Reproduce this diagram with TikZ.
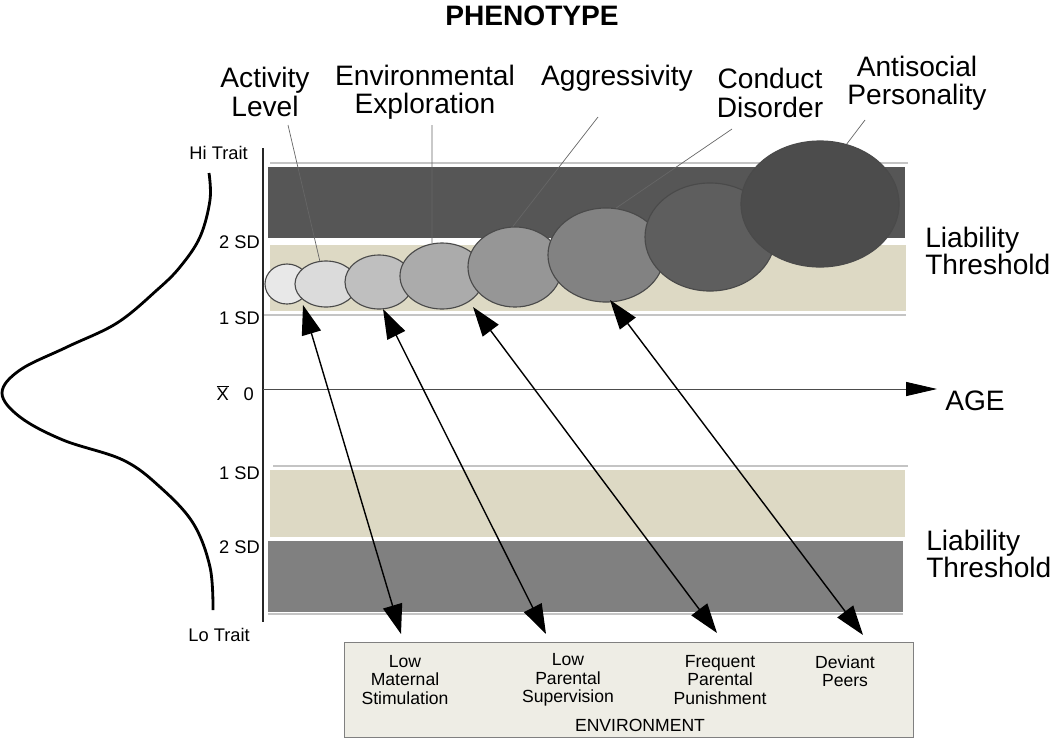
\documentclass[tikz,border=0pt]{standalone}
\usepackage{fontspec}
\setmainfont{Liberation Sans}
\usetikzlibrary{shapes.geometric}
\usetikzlibrary{arrows.meta}

\definecolor{darkband}{HTML}{565656}
\definecolor{lowband}{HTML}{808080}
\definecolor{beige}{HTML}{DDD9C4}
\definecolor{envfill}{HTML}{EEEDE5}
\definecolor{sepgray}{HTML}{C4C4C4}
\definecolor{rimgray}{HTML}{4A4A4A}

\newcommand{\lblfont}{\fontsize{20}{20}\selectfont}
\newcommand{\sdfont}{\fontsize{13}{13}\selectfont}
\newcommand{\envfont}{\fontsize{12.5}{13}\selectfont}

\tikzset{
	trait/.style={ellipse, draw=rimgray, line width=0.8pt, inner sep=0pt},
	pointer/.style={draw=black!60, line width=0.5pt},
	biarrow/.style={{Triangle[length=21pt,width=14pt]}-{Triangle[length=21pt,width=14pt]}, line width=1pt},
	sepline/.style={draw=sepgray, line width=1.1pt},
	sdlabel/.style={anchor=east, inner sep=0pt, font=\sdfont},
	phlabel/.style={align=center, inner sep=0pt, font=\lblfont},
	envlabel/.style={align=center, inner sep=0pt, font=\envfont}
}

\begin{document}
\begin{tikzpicture}[x=0.025cm, y=-0.025cm]
		\useasboundingbox (0,0) rectangle (1050,739);

		% Bands
		\draw[sepline] (270,163) -- (908,163);
		\fill[darkband] (268,167) rectangle (905,238);
		\fill[beige] (270,245) rectangle (906,311);
		\draw[sepline] (263,315) -- (906,315);
		\draw[sepline] (273,466) -- (908,466);
		\fill[beige] (270,470) rectangle (905,537);
		\fill[lowband] (268,541) rectangle (903,612);
		\draw[sepline] (268,614) -- (903,614);

		% Axes
		\coordinate (axtop) at (263,148);
		\coordinate (axbot) at (263,622);
		\draw[line width=1.1pt, black!85] (axtop) -- (axbot);
		\coordinate (origin) at (263,389);
		\coordinate (agetip) at (937,389);
		\draw[-{Triangle[length=22pt,width=10pt,black]}, line width=0.6pt, black!70] (origin) -- (agetip);
		\node[anchor=west, inner sep=0pt, font=\lblfont] (agelbl) at (945,401) {AGE};

		% Trait scale
		\node[sdlabel] (hitrait) at (248,153) {Hi Trait};
		\node[sdlabel] (hi2sd) at (260,242) {2 SD};
		\node[sdlabel] (hi1sd) at (260,318) {1 SD};
		\node[sdlabel] (mean) at (254,393) {$\overline{\mbox{X}}$\hspace{0.8em}0};
		\node[sdlabel] (lo1sd) at (260,473) {1 SD};
		\node[sdlabel] (lo2sd) at (260,547) {2 SD};
		\node[sdlabel] (lotrait) at (250,635) {Lo Trait};

		% Normal curve
		\draw[line width=2pt, line join=round] plot[smooth, tension=0.6] coordinates {(209,173) (210,200) (200,237) (180,267) (157,290) (117,323) (67,347) (20,370) (2,393) (20,417) (63,440) (123,460) (160,487) (193,523) (210,567) (213,610)};

		% Phenotypes
		\node[trait, fill=black!9, minimum width=1.1cm, minimum height=1.0cm] (e1) at (287,284) {};
		\node[trait, fill=black!14, minimum width=1.55cm, minimum height=1.15cm] (e2) at (326,284) {};
		\node[trait, fill=black!25, minimum width=1.7cm, minimum height=1.35cm] (e3) at (379,282) {};
		\node[trait, fill=black!33, minimum width=2.1cm, minimum height=1.65cm] (e4) at (442,276) {};
		\node[trait, fill=black!41, minimum width=2.35cm, minimum height=2.0cm] (e5) at (515,267) {};
		\node[trait, fill=black!49, minimum width=2.9cm, minimum height=2.35cm] (e6) at (606,255) {};
		\node[trait, fill=black!63, minimum width=3.25cm, minimum height=2.7cm] (e7) at (710,237) {};
		\node[trait, fill=black!70, minimum width=3.95cm, minimum height=3.15cm] (e8) at (820,204) {};

		\node[font=\bfseries\fontsize{20}{20}\selectfont, inner sep=0pt] (pheno) at (532,16) {PHENOTYPE};
		\node[phlabel] (actlbl) at (265,92) {Activity\\Level};
		\node[phlabel] (explbl) at (425,92) {Environmental\\Exploration};
		\node[phlabel] (agglbl) at (617,78) {Aggressivity};
		\node[phlabel] (cndlbl) at (770,93) {Conduct\\Disorder};
		\node[phlabel] (asplbl) at (917,83) {Antisocial\\Personality};

		\coordinate (actpt) at (288,125);
		\coordinate (exppt) at (432,125);
		\coordinate (aggpt) at (598,117);
		\coordinate (cndpt) at (732,129);
		\coordinate (asppt) at (865,120);
		\draw[pointer] (actpt) -- (e2.105);
		\draw[pointer] (exppt) -- (e4.107);
		\draw[pointer] (aggpt) -- (e5.93);
		\draw[pointer] (cndpt) -- (e6.78);
		\draw[pointer] (asppt) -- (e8.66);

		\node[anchor=west, align=left, inner sep=0pt, font=\fontsize{20}{15.5}\selectfont] (hithr) at (925,251) {Liability\\Threshold};
		\node[anchor=west, align=left, inner sep=0pt, font=\fontsize{20}{15.5}\selectfont] (lothr) at (926,554) {Liability\\Threshold};

		% Environment
		\node[draw=black!50, fill=envfill, line width=0.7pt, minimum width=14.2cm, minimum height=2.375cm, inner sep=0pt] (envbox) at (629,689.5) {};
		\node[envlabel] (stim) at (405,680) {Low\\Maternal\\Stimulation};
		\node[envlabel] (superv) at (568,680) {Low\\Parental\\Supervision};
		\node[envlabel] (punish) at (720,680) {Frequent\\Parental\\Punishment};
		\node[envlabel] (peers) at (845,671) {Deviant\\Peers};
		\node[envlabel] (envlbl) at (640,725) {ENVIRONMENT};

		% Connections
		\coordinate (up1) at (303,305);
		\coordinate (up2) at (383,309);
		\coordinate (up3) at (473,307);
		\coordinate (up4) at (610,300);
		\coordinate (dn1) at (401,634);
		\coordinate (dn2) at (546,634);
		\coordinate (dn3) at (717,633);
		\coordinate (dn4) at (863,635);
		\draw[biarrow] (up1) -- (dn1);
		\draw[biarrow] (up2) -- (dn2);
		\draw[biarrow] (up3) -- (dn3);
		\draw[biarrow] (up4) -- (dn4);

	\end{tikzpicture}
\end{document}
